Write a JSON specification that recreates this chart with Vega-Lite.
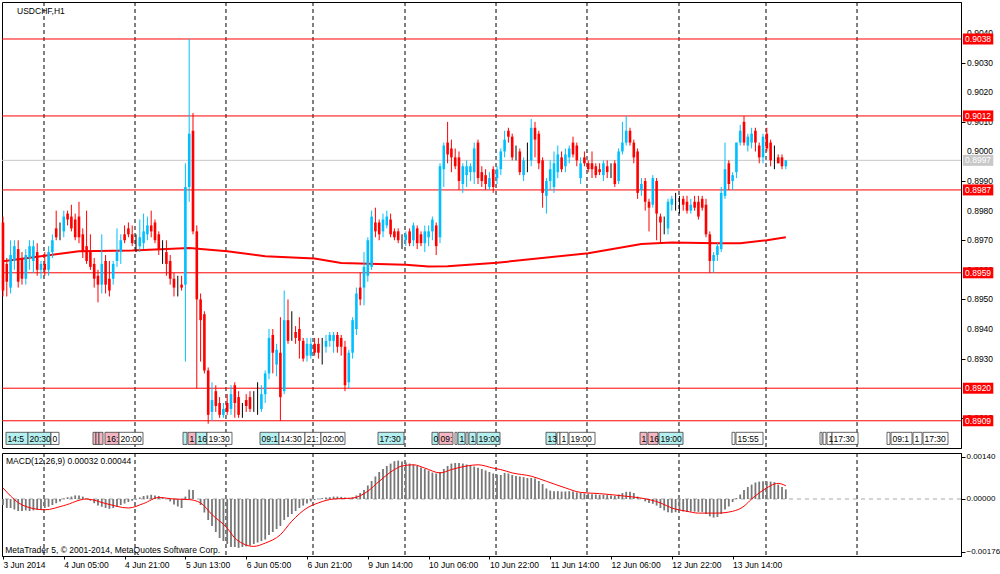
{
  "$schema": "https://vega.github.io/schema/vega-lite/v6.json",
  "padding": {"left": -2, "top": 1, "right": 0, "bottom": 0},
  "background": "#ffffff",
  "spacing": 3,
  "config": {
    "view": {"stroke": "#000000", "strokeWidth": 1},
    "font": "Liberation Sans",
    "axis": {"labelFont": "Liberation Sans", "labelFontSize": 8.5, "labelColor": "#000000", "domainColor": "#000000", "tickColor": "#000000", "grid": false, "labelOverlap": false}
  },
  "datasets": {
    "grid": [{"i": 10.79}, {"i": 34.74}, {"i": 58.68}, {"i": 81.58}, {"i": 105.79}, {"i": 129.74}, {"i": 153.68}, {"i": 177.89}, {"i": 200.79}, {"i": 224.74}],
    "pticks": [{"p": 0.891}, {"p": 0.892}, {"p": 0.893}, {"p": 0.894}, {"p": 0.895}, {"p": 0.896}, {"p": 0.897}, {"p": 0.898}, {"p": 0.899}, {"p": 0.9}, {"p": 0.901}, {"p": 0.902}, {"p": 0.903}, {"p": 0.904}],
    "levels": [
      {"p": 0.9038, "k": "lvl"}, {"p": 0.9012, "k": "lvl"}, {"p": 0.8997, "k": "bid"}, {"p": 0.8987, "k": "lvl"},
      {"p": 0.8959, "k": "lvl"}, {"p": 0.892, "k": "lvl"}, {"p": 0.8909, "k": "lvl"}
    ],
    "ma": [
      {"i": 0, "p": 0.89629}, {"i": 10, "p": 0.89646}, {"i": 20, "p": 0.89663}, {"i": 34, "p": 0.89665}, {"i": 49, "p": 0.89674},
      {"i": 59, "p": 0.89663}, {"i": 69, "p": 0.89646}, {"i": 82, "p": 0.89638}, {"i": 89, "p": 0.89623}, {"i": 106, "p": 0.89617},
      {"i": 112, "p": 0.89611}, {"i": 117, "p": 0.89612}, {"i": 130, "p": 0.89624}, {"i": 154, "p": 0.89656}, {"i": 168, "p": 0.89687},
      {"i": 176, "p": 0.89692}, {"i": 188, "p": 0.8969}, {"i": 194, "p": 0.8969}, {"i": 201, "p": 0.897}, {"i": 206, "p": 0.8971}
    ],
    "events": [
      {"s": 0.79, "e": 6.58, "t": "14:5", "k": "c"}, {"s": 6.58, "e": 12.63, "t": "20:30", "k": "c"}, {"s": 12.63, "e": 14.74, "t": "0", "k": "w"},
      {"s": 23.68, "e": 24.47, "t": "", "k": "p"}, {"s": 24.47, "e": 25.26, "t": "", "k": "p"}, {"s": 25.26, "e": 26.32, "t": "", "k": "p"},
      {"s": 26.84, "e": 30.53, "t": "16:", "k": "p"}, {"s": 30.53, "e": 36.84, "t": "20:00", "k": "w"},
      {"s": 47.37, "e": 48.42, "t": "", "k": "c"}, {"s": 48.68, "e": 50.79, "t": "1", "k": "p"}, {"s": 50.79, "e": 53.68, "t": "16", "k": "c"},
      {"s": 53.68, "e": 60.26, "t": "19:30", "k": "w"}, {"s": 67.63, "e": 72.63, "t": "09:1", "k": "c"}, {"s": 72.63, "e": 79.47, "t": "14:30", "k": "w"},
      {"s": 79.47, "e": 83.68, "t": "21:", "k": "w"}, {"s": 83.68, "e": 90, "t": "02:00", "k": "w"}, {"s": 98.68, "e": 105.53, "t": "17:30", "k": "c"},
      {"s": 112.89, "e": 114.47, "t": "0", "k": "c"}, {"s": 114.74, "e": 118.42, "t": "09:", "k": "p"}, {"s": 118.95, "e": 119.47, "t": "", "k": "w"},
      {"s": 119.74, "e": 121.58, "t": "1", "k": "c"}, {"s": 121.84, "e": 122.37, "t": "", "k": "w"}, {"s": 122.63, "e": 124.47, "t": "1", "k": "c"},
      {"s": 124.74, "e": 130.79, "t": "19:00", "k": "c"}, {"s": 142.89, "e": 145.53, "t": "13", "k": "c"}, {"s": 145.79, "e": 146.58, "t": "", "k": "w"},
      {"s": 146.58, "e": 148.68, "t": "1", "k": "w"}, {"s": 148.95, "e": 155.79, "t": "19:00", "k": "w"}, {"s": 167.63, "e": 169.47, "t": "1", "k": "p"},
      {"s": 169.74, "e": 172.37, "t": "16", "k": "p"}, {"s": 172.63, "e": 178.95, "t": "19:00", "k": "c"}, {"s": 191.84, "e": 192.63, "t": "", "k": "w"},
      {"s": 192.89, "e": 200, "t": "15:55", "k": "w"}, {"s": 215, "e": 215.53, "t": "", "k": "w"}, {"s": 215.79, "e": 216.58, "t": "", "k": "w"},
      {"s": 216.84, "e": 218.16, "t": "1", "k": "w"}, {"s": 218.16, "e": 225, "t": "17:30", "k": "w"}, {"s": 232.63, "e": 233.42, "t": "", "k": "w"},
      {"s": 233.68, "e": 239.21, "t": "09:1", "k": "w"}, {"s": 239.47, "e": 241.84, "t": "1", "k": "w"}, {"s": 242.11, "e": 248.68, "t": "17:30", "k": "w"}
    ],
    "bars": [
      {"i":0,"o":0.8976,"h":0.8978,"l":0.8951,"c":0.8953},{"i":1,"o":0.8962,"h":0.8964,"l":0.8951,"c":0.8956},{"i":2,"o":0.8954,"h":0.897,"l":0.8952,"c":0.8965},
      {"i":3,"o":0.8963,"h":0.897,"l":0.896,"c":0.8968},{"i":4,"o":0.8967,"h":0.897,"l":0.8954,"c":0.8956},{"i":5,"o":0.8964,"h":0.8966,"l":0.8955,"c":0.8957},
      {"i":6,"o":0.8957,"h":0.8967,"l":0.8955,"c":0.8965},{"i":7,"o":0.8964,"h":0.897,"l":0.896,"c":0.8968},{"i":8,"o":0.8963,"h":0.897,"l":0.8959,"c":0.8968},
      {"i":9,"o":0.8966,"h":0.8969,"l":0.8958,"c":0.896},{"i":10,"o":0.896,"h":0.8963,"l":0.8957,"c":0.8962},{"i":11,"o":0.8962,"h":0.8966,"l":0.8958,"c":0.896},
      {"i":12,"o":0.896,"h":0.8968,"l":0.8958,"c":0.8966},{"i":13,"o":0.8966,"h":0.8972,"l":0.8964,"c":0.897},{"i":14,"o":0.8974,"h":0.898,"l":0.897,"c":0.8971},
      {"i":15,"o":0.8973,"h":0.8976,"l":0.897,"c":0.8973},{"i":16,"o":0.8973,"h":0.898,"l":0.8971,"c":0.8978},{"i":17,"o":0.8979,"h":0.898,"l":0.8975,"c":0.8977},
      {"i":18,"o":0.8978,"h":0.8982,"l":0.8973,"c":0.8974},{"i":19,"o":0.8977,"h":0.8979,"l":0.897,"c":0.8971},{"i":20,"o":0.8978,"h":0.8983,"l":0.8969,"c":0.8971},
      {"i":21,"o":0.8972,"h":0.8974,"l":0.8964,"c":0.8966},{"i":22,"o":0.8968,"h":0.898,"l":0.8962,"c":0.8963},{"i":23,"o":0.8966,"h":0.8972,"l":0.896,"c":0.8961},
      {"i":24,"o":0.8962,"h":0.8964,"l":0.8954,"c":0.8957},{"i":25,"o":0.8958,"h":0.896,"l":0.8949,"c":0.8955},{"i":26,"o":0.8955,"h":0.8972,"l":0.8952,"c":0.8962},
      {"i":27,"o":0.8963,"h":0.8965,"l":0.8952,"c":0.8955},{"i":28,"o":0.8957,"h":0.8963,"l":0.8951,"c":0.8953},{"i":29,"o":0.8957,"h":0.8963,"l":0.8955,"c":0.8962},
      {"i":30,"o":0.8963,"h":0.8974,"l":0.8961,"c":0.8966},{"i":31,"o":0.8966,"h":0.8972,"l":0.8962,"c":0.897},{"i":32,"o":0.8972,"h":0.8975,"l":0.8969,"c":0.897},
      {"i":33,"o":0.8974,"h":0.8976,"l":0.8971,"c":0.8972},{"i":34,"o":0.8972,"h":0.8975,"l":0.8968,"c":0.8969},{"i":35,"o":0.897,"h":0.8972,"l":0.8966,"c":0.897},
      {"i":36,"o":0.8968,"h":0.8977,"l":0.8966,"c":0.8971},{"i":37,"o":0.8969,"h":0.8979,"l":0.8967,"c":0.8973},{"i":38,"o":0.8972,"h":0.8978,"l":0.897,"c":0.8975},
      {"i":39,"o":0.8975,"h":0.898,"l":0.8971,"c":0.8973},{"i":40,"o":0.8976,"h":0.8977,"l":0.8969,"c":0.897},{"i":41,"o":0.8972,"h":0.8973,"l":0.8965,"c":0.8967},
      {"i":42,"o":0.8968,"h":0.897,"l":0.8962,"c":0.8968},{"i":43,"o":0.8966,"h":0.897,"l":0.8958,"c":0.8962},{"i":44,"o":0.8963,"h":0.8965,"l":0.8955,"c":0.8957},
      {"i":45,"o":0.8957,"h":0.8959,"l":0.8951,"c":0.8954},{"i":46,"o":0.8954,"h":0.8958,"l":0.8951,"c":0.8954},{"i":47,"o":0.8955,"h":0.8958,"l":0.8953,"c":0.8954},
      {"i":48,"o":0.8955,"h":0.8996,"l":0.8929,"c":0.8988},{"i":49,"o":0.8988,"h":0.9038,"l":0.8983,"c":0.9006},{"i":50,"o":0.9007,"h":0.9013,"l":0.8972,"c":0.8973},
      {"i":51,"o":0.8973,"h":0.8975,"l":0.892,"c":0.895},{"i":52,"o":0.895,"h":0.8952,"l":0.8929,"c":0.8943},{"i":53,"o":0.8945,"h":0.8946,"l":0.8925,"c":0.8926},
      {"i":54,"o":0.8926,"h":0.8927,"l":0.8908,"c":0.8911},{"i":55,"o":0.8912,"h":0.8922,"l":0.8909,"c":0.8916},{"i":56,"o":0.8919,"h":0.8921,"l":0.8912,"c":0.8914},
      {"i":57,"o":0.8915,"h":0.8917,"l":0.891,"c":0.8911},{"i":58,"o":0.8911,"h":0.8915,"l":0.891,"c":0.8913},{"i":59,"o":0.8915,"h":0.8918,"l":0.8911,"c":0.8912},
      {"i":60,"o":0.8913,"h":0.8921,"l":0.8911,"c":0.8918},{"i":61,"o":0.8921,"h":0.8922,"l":0.891,"c":0.8915},{"i":62,"o":0.8917,"h":0.8919,"l":0.891,"c":0.8911},
      {"i":63,"o":0.8912,"h":0.8915,"l":0.891,"c":0.8912},{"i":64,"o":0.8916,"h":0.8918,"l":0.8912,"c":0.8914},{"i":65,"o":0.8917,"h":0.8919,"l":0.8912,"c":0.8913},
      {"i":66,"o":0.8915,"h":0.8919,"l":0.8912,"c":0.8915},{"i":67,"o":0.8914,"h":0.8922,"l":0.8911,"c":0.8914},{"i":68,"o":0.8913,"h":0.8921,"l":0.8912,"c":0.8918},
      {"i":69,"o":0.8918,"h":0.8926,"l":0.8915,"c":0.8925},{"i":70,"o":0.8925,"h":0.894,"l":0.8923,"c":0.8937},{"i":71,"o":0.8938,"h":0.894,"l":0.8925,"c":0.8932},
      {"i":72,"o":0.8928,"h":0.8935,"l":0.8924,"c":0.8933},{"i":73,"o":0.8932,"h":0.8944,"l":0.8909,"c":0.8917},{"i":74,"o":0.8919,"h":0.8953,"l":0.8918,"c":0.8943},
      {"i":75,"o":0.8943,"h":0.895,"l":0.8935,"c":0.8936},{"i":76,"o":0.8938,"h":0.8946,"l":0.8936,"c":0.8938},{"i":77,"o":0.8939,"h":0.8941,"l":0.8935,"c":0.8937},
      {"i":78,"o":0.894,"h":0.8944,"l":0.893,"c":0.8936},{"i":79,"o":0.8936,"h":0.8937,"l":0.8929,"c":0.893},{"i":80,"o":0.8931,"h":0.8937,"l":0.8929,"c":0.8935},
      {"i":81,"o":0.8931,"h":0.8937,"l":0.893,"c":0.8935},{"i":82,"o":0.8935,"h":0.8937,"l":0.8931,"c":0.8932},{"i":83,"o":0.8935,"h":0.8937,"l":0.893,"c":0.8932},
      {"i":84,"o":0.8934,"h":0.8937,"l":0.8928,"c":0.8934},{"i":85,"o":0.8934,"h":0.8938,"l":0.8932,"c":0.8936},{"i":86,"o":0.8936,"h":0.8939,"l":0.8934,"c":0.8938},
      {"i":87,"o":0.8936,"h":0.8939,"l":0.8932,"c":0.8938},{"i":88,"o":0.8938,"h":0.8939,"l":0.8932,"c":0.8934},{"i":89,"o":0.8937,"h":0.8938,"l":0.8931,"c":0.8934},
      {"i":90,"o":0.8934,"h":0.8936,"l":0.8919,"c":0.8921},{"i":91,"o":0.8922,"h":0.8933,"l":0.892,"c":0.8932},{"i":92,"o":0.8932,"h":0.8944,"l":0.893,"c":0.8943},
      {"i":93,"o":0.894,"h":0.8954,"l":0.8938,"c":0.8952},{"i":94,"o":0.8954,"h":0.8959,"l":0.8948,"c":0.895},{"i":95,"o":0.8954,"h":0.8966,"l":0.8948,"c":0.8961},
      {"i":96,"o":0.8958,"h":0.8971,"l":0.8956,"c":0.897},{"i":97,"o":0.8961,"h":0.898,"l":0.896,"c":0.8978},{"i":98,"o":0.8976,"h":0.8981,"l":0.8971,"c":0.8973},
      {"i":99,"o":0.8976,"h":0.8977,"l":0.897,"c":0.8972},{"i":100,"o":0.8973,"h":0.8979,"l":0.8971,"c":0.8977},{"i":101,"o":0.8975,"h":0.898,"l":0.8974,"c":0.8978},
      {"i":102,"o":0.8977,"h":0.8979,"l":0.8971,"c":0.8972},{"i":103,"o":0.8973,"h":0.8974,"l":0.897,"c":0.8971},{"i":104,"o":0.8973,"h":0.8974,"l":0.8969,"c":0.897},
      {"i":105,"o":0.8971,"h":0.8972,"l":0.8967,"c":0.8971},{"i":106,"o":0.897,"h":0.8973,"l":0.8968,"c":0.8972},{"i":107,"o":0.8973,"h":0.8974,"l":0.8968,"c":0.8969},
      {"i":108,"o":0.897,"h":0.8976,"l":0.8968,"c":0.8975},{"i":109,"o":0.8974,"h":0.8975,"l":0.8967,"c":0.8969},{"i":110,"o":0.8972,"h":0.8973,"l":0.8968,"c":0.8969},
      {"i":111,"o":0.8969,"h":0.8975,"l":0.8966,"c":0.8973},{"i":112,"o":0.8971,"h":0.8975,"l":0.8968,"c":0.8973},{"i":113,"o":0.8973,"h":0.8978,"l":0.897,"c":0.8977},
      {"i":114,"o":0.8975,"h":0.8976,"l":0.8965,"c":0.8968},{"i":115,"o":0.8971,"h":0.8996,"l":0.8969,"c":0.8995},{"i":116,"o":0.8994,"h":0.9003,"l":0.8988,"c":0.9002},
      {"i":117,"o":0.9003,"h":0.901,"l":0.8996,"c":0.8999},{"i":118,"o":0.9001,"h":0.9004,"l":0.8993,"c":0.8998},{"i":119,"o":0.8998,"h":0.9001,"l":0.8994,"c":0.8995},
      {"i":120,"o":0.8998,"h":0.9,"l":0.8987,"c":0.899},{"i":121,"o":0.8989,"h":0.8996,"l":0.8986,"c":0.8995},{"i":122,"o":0.8992,"h":0.8997,"l":0.8988,"c":0.8995},
      {"i":123,"o":0.8993,"h":0.8996,"l":0.899,"c":0.8995},{"i":124,"o":0.8993,"h":0.9003,"l":0.8989,"c":0.9001},{"i":125,"o":0.9003,"h":0.9004,"l":0.8989,"c":0.8991},
      {"i":126,"o":0.8993,"h":0.8995,"l":0.8988,"c":0.899},{"i":127,"o":0.8992,"h":0.8994,"l":0.8987,"c":0.8989},{"i":128,"o":0.8988,"h":0.8993,"l":0.8987,"c":0.8991},
      {"i":129,"o":0.8994,"h":0.8995,"l":0.8986,"c":0.8988},{"i":130,"o":0.8991,"h":0.8995,"l":0.8989,"c":0.8994},{"i":131,"o":0.8994,"h":0.9001,"l":0.8992,"c":0.9},
      {"i":132,"o":0.9,"h":0.9007,"l":0.8998,"c":0.9004},{"i":133,"o":0.9007,"h":0.9008,"l":0.9003,"c":0.9005},{"i":134,"o":0.9005,"h":0.9006,"l":0.8997,"c":0.8998},
      {"i":135,"o":0.9,"h":0.9002,"l":0.8997,"c":0.9},{"i":136,"o":0.9,"h":0.9001,"l":0.8992,"c":0.8993},{"i":137,"o":0.8992,"h":0.8998,"l":0.899,"c":0.8997},
      {"i":138,"o":0.8998,"h":0.9003,"l":0.8993,"c":0.8998},{"i":139,"o":0.8997,"h":0.9011,"l":0.8995,"c":0.9008},{"i":140,"o":0.9008,"h":0.901,"l":0.8998,"c":0.9004},
      {"i":141,"o":0.9006,"h":0.9007,"l":0.8994,"c":0.8996},{"i":142,"o":0.8997,"h":0.8998,"l":0.8981,"c":0.8986},{"i":143,"o":0.8985,"h":0.8991,"l":0.8979,"c":0.899},
      {"i":144,"o":0.899,"h":0.8997,"l":0.8987,"c":0.8994},{"i":145,"o":0.8988,"h":0.9,"l":0.8986,"c":0.8996},{"i":146,"o":0.8993,"h":0.9002,"l":0.8991,"c":0.8999},
      {"i":147,"o":0.8998,"h":0.9,"l":0.8993,"c":0.8994},{"i":148,"o":0.8995,"h":0.9001,"l":0.8993,"c":0.8999},{"i":149,"o":0.8998,"h":0.9002,"l":0.8996,"c":0.9001},
      {"i":150,"o":0.9003,"h":0.9005,"l":0.8998,"c":0.8999},{"i":151,"o":0.9002,"h":0.9003,"l":0.8995,"c":0.8997},{"i":152,"o":0.8991,"h":0.8998,"l":0.8989,"c":0.8996},
      {"i":153,"o":0.8998,"h":0.9,"l":0.8995,"c":0.8996},{"i":154,"o":0.8996,"h":0.8997,"l":0.8993,"c":0.8994},{"i":155,"o":0.8996,"h":0.9,"l":0.8991,"c":0.8994},
      {"i":156,"o":0.8995,"h":0.8996,"l":0.8991,"c":0.8992},{"i":157,"o":0.8994,"h":0.8996,"l":0.8992,"c":0.8993},{"i":158,"o":0.8992,"h":0.8997,"l":0.899,"c":0.8996},
      {"i":159,"o":0.8995,"h":0.8997,"l":0.8991,"c":0.8993},{"i":160,"o":0.8994,"h":0.8996,"l":0.8991,"c":0.8994},{"i":161,"o":0.8996,"h":0.8997,"l":0.8988,"c":0.8989},
      {"i":162,"o":0.899,"h":0.9001,"l":0.8989,"c":0.9},{"i":163,"o":0.9,"h":0.901,"l":0.8999,"c":0.9003},{"i":164,"o":0.9003,"h":0.9012,"l":0.9002,"c":0.9007},
      {"i":165,"o":0.9007,"h":0.9008,"l":0.9002,"c":0.9003},{"i":166,"o":0.9003,"h":0.9004,"l":0.8996,"c":0.8998},{"i":167,"o":0.9,"h":0.9001,"l":0.8984,"c":0.8986},
      {"i":168,"o":0.8987,"h":0.8991,"l":0.8985,"c":0.8989},{"i":169,"o":0.899,"h":0.8991,"l":0.898,"c":0.8983},{"i":170,"o":0.8983,"h":0.8984,"l":0.8973,"c":0.8981},
      {"i":171,"o":0.8982,"h":0.8992,"l":0.8981,"c":0.8991},{"i":172,"o":0.899,"h":0.8991,"l":0.897,"c":0.8979},{"i":173,"o":0.8978,"h":0.8979,"l":0.8969,"c":0.8976},
      {"i":174,"o":0.8977,"h":0.8978,"l":0.8972,"c":0.8977},{"i":175,"o":0.8974,"h":0.8984,"l":0.8972,"c":0.8983},{"i":176,"o":0.8982,"h":0.8985,"l":0.898,"c":0.8984},
      {"i":177,"o":0.8983,"h":0.8986,"l":0.898,"c":0.8983},{"i":178,"o":0.8983,"h":0.8985,"l":0.8979,"c":0.8983},{"i":179,"o":0.8984,"h":0.8985,"l":0.898,"c":0.8982},
      {"i":180,"o":0.8983,"h":0.8985,"l":0.8979,"c":0.898},{"i":181,"o":0.898,"h":0.8984,"l":0.8979,"c":0.8982},{"i":182,"o":0.8983,"h":0.8985,"l":0.898,"c":0.8981},
      {"i":183,"o":0.8983,"h":0.8985,"l":0.8977,"c":0.8978},{"i":184,"o":0.8984,"h":0.8985,"l":0.898,"c":0.8981},{"i":185,"o":0.8982,"h":0.8984,"l":0.8971,"c":0.8972},
      {"i":186,"o":0.8972,"h":0.8973,"l":0.8959,"c":0.8963},{"i":187,"o":0.8963,"h":0.8966,"l":0.8959,"c":0.8965},{"i":188,"o":0.8965,"h":0.8969,"l":0.8963,"c":0.8968},
      {"i":189,"o":0.8967,"h":0.8988,"l":0.8966,"c":0.8986},{"i":190,"o":0.8985,"h":0.9003,"l":0.8984,"c":0.8994},{"i":191,"o":0.8996,"h":0.8997,"l":0.8987,"c":0.8989},
      {"i":192,"o":0.899,"h":0.8993,"l":0.8987,"c":0.8992},{"i":193,"o":0.8993,"h":0.9003,"l":0.8991,"c":0.9003},{"i":194,"o":0.9003,"h":0.9009,"l":0.9002,"c":0.9007},
      {"i":195,"o":0.901,"h":0.9012,"l":0.9002,"c":0.9003},{"i":196,"o":0.9002,"h":0.9006,"l":0.9,"c":0.9005},{"i":197,"o":0.9003,"h":0.9008,"l":0.9001,"c":0.9006},
      {"i":198,"o":0.9007,"h":0.9008,"l":0.9,"c":0.9003},{"i":199,"o":0.9002,"h":0.9003,"l":0.8996,"c":0.8998},{"i":200,"o":0.8998,"h":0.9006,"l":0.8996,"c":0.9005},
      {"i":201,"o":0.9006,"h":0.9008,"l":0.9,"c":0.9001},{"i":202,"o":0.9003,"h":0.9004,"l":0.8995,"c":0.8997},{"i":203,"o":0.8998,"h":0.9002,"l":0.8994,"c":0.8998},
      {"i":204,"o":0.8998,"h":0.8999,"l":0.8996,"c":0.8996},{"i":205,"o":0.8998,"h":0.8999,"l":0.8994,"c":0.8995},{"i":206,"o":0.8995,"h":0.8997,"l":0.8994,"c":0.8997}
    ],
    "macd": [
      {"i":0,"v":-0.0002},{"i":1,"v":-0.0003},{"i":2,"v":-0.0003},{"i":3,"v":-0.00035},{"i":4,"v":-0.0004},{"i":5,"v":-0.0004},{"i":6,"v":-0.00038},{"i":7,"v":-0.0004},
      {"i":8,"v":-0.00038},{"i":9,"v":-0.00036},{"i":10,"v":-0.00035},{"i":11,"v":-0.0003},{"i":12,"v":-0.00026},{"i":13,"v":-0.0002},{"i":14,"v":-0.00014},{"i":15,"v":-0.00008},
      {"i":16,"v":0.00002},{"i":17,"v":0.00006},{"i":18,"v":0.00008},{"i":19,"v":0.00012},{"i":20,"v":0.00012},{"i":21,"v":0.00008},{"i":22,"v":0.00002},{"i":23,"v":-0.00006},
      {"i":24,"v":-0.00014},{"i":25,"v":-0.00022},{"i":26,"v":-0.00026},{"i":27,"v":-0.0003},{"i":28,"v":-0.00033},{"i":29,"v":-0.0003},{"i":30,"v":-0.00025},{"i":31,"v":-0.0002},
      {"i":32,"v":-0.00015},{"i":33,"v":-0.0001},{"i":34,"v":-0.00006},{"i":35,"v":-0.00002},{"i":36,"v":0.00005},{"i":37,"v":0.0001},{"i":38,"v":0.00012},{"i":39,"v":0.00014},
      {"i":40,"v":0.00012},{"i":41,"v":0.0001},{"i":42,"v":0.00006},{"i":43,"v":0.0},{"i":44,"v":-0.00008},{"i":45,"v":-0.00018},{"i":46,"v":-0.00025},{"i":47,"v":-0.0003},
      {"i":48,"v":0.00008},{"i":49,"v":0.00031},{"i":50,"v":0.0003},{"i":51,"v":0.0},{"i":52,"v":-0.0002},{"i":53,"v":-0.00045},{"i":54,"v":-0.0007},{"i":55,"v":-0.0009},
      {"i":56,"v":-0.0011},{"i":57,"v":-0.0013},{"i":58,"v":-0.0014},{"i":59,"v":-0.0015},{"i":60,"v":-0.0016},{"i":61,"v":-0.0016},{"i":62,"v":-0.00163},{"i":63,"v":-0.0016},
      {"i":64,"v":-0.00158},{"i":65,"v":-0.00155},{"i":66,"v":-0.0015},{"i":67,"v":-0.00145},{"i":68,"v":-0.0014},{"i":69,"v":-0.00135},{"i":70,"v":-0.0012},{"i":71,"v":-0.0011},
      {"i":72,"v":-0.001},{"i":73,"v":-0.0009},{"i":74,"v":-0.0007},{"i":75,"v":-0.0006},{"i":76,"v":-0.0005},{"i":77,"v":-0.0004},{"i":78,"v":-0.0003},{"i":79,"v":-0.00022},
      {"i":80,"v":-0.00015},{"i":81,"v":-0.00008},{"i":82,"v":-0.00004},{"i":83,"v":0.0},{"i":84,"v":0.00003},{"i":85,"v":0.00005},{"i":86,"v":0.00006},{"i":87,"v":0.00008},
      {"i":88,"v":0.00008},{"i":89,"v":0.00007},{"i":90,"v":0.00005},{"i":91,"v":0.00003},{"i":92,"v":0.00006},{"i":93,"v":0.00012},{"i":94,"v":0.0002},{"i":95,"v":0.0003},
      {"i":96,"v":0.00045},{"i":97,"v":0.0006},{"i":98,"v":0.00075},{"i":99,"v":0.0009},{"i":100,"v":0.001},{"i":101,"v":0.0011},{"i":102,"v":0.00118},{"i":103,"v":0.00126},
      {"i":104,"v":0.00128},{"i":105,"v":0.00125},{"i":106,"v":0.00122},{"i":107,"v":0.00118},{"i":108,"v":0.00115},{"i":109,"v":0.0011},{"i":110,"v":0.00105},{"i":111,"v":0.001},
      {"i":112,"v":0.00095},{"i":113,"v":0.00088},{"i":114,"v":0.00085},{"i":115,"v":0.0009},{"i":116,"v":0.001},{"i":117,"v":0.0011},{"i":118,"v":0.00118},{"i":119,"v":0.0012},
      {"i":120,"v":0.0012},{"i":121,"v":0.00118},{"i":122,"v":0.00115},{"i":123,"v":0.00112},{"i":124,"v":0.00108},{"i":125,"v":0.00104},{"i":126,"v":0.001},{"i":127,"v":0.00095},
      {"i":128,"v":0.0009},{"i":129,"v":0.00085},{"i":130,"v":0.00082},{"i":131,"v":0.0008},{"i":132,"v":0.00087},{"i":133,"v":0.00085},{"i":134,"v":0.0008},{"i":135,"v":0.00077},
      {"i":136,"v":0.00075},{"i":137,"v":0.00073},{"i":138,"v":0.0007},{"i":139,"v":0.0007},{"i":140,"v":0.00068},{"i":141,"v":0.0006},{"i":142,"v":0.0005},{"i":143,"v":0.00035},
      {"i":144,"v":0.00028},{"i":145,"v":0.00026},{"i":146,"v":0.00026},{"i":147,"v":0.00025},{"i":148,"v":0.00025},{"i":149,"v":0.00026},{"i":150,"v":0.00025},{"i":151,"v":0.00022},
      {"i":152,"v":0.0002},{"i":153,"v":0.00019},{"i":154,"v":0.00018},{"i":155,"v":0.00016},{"i":156,"v":0.00015},{"i":157,"v":0.00014},{"i":158,"v":0.00014},{"i":159,"v":0.00013},
      {"i":160,"v":0.00012},{"i":161,"v":0.0001},{"i":162,"v":0.00015},{"i":163,"v":0.0002},{"i":164,"v":0.00024},{"i":165,"v":0.00024},{"i":166,"v":0.0002},{"i":167,"v":0.00008},
      {"i":168,"v":0.00002},{"i":169,"v":-0.00008},{"i":170,"v":-0.00013},{"i":171,"v":-0.00016},{"i":172,"v":-0.00022},{"i":173,"v":-0.0003},{"i":174,"v":-0.00038},{"i":175,"v":-0.00044},
      {"i":176,"v":-0.00046},{"i":177,"v":-0.00044},{"i":178,"v":-0.0004},{"i":179,"v":-0.00042},{"i":180,"v":-0.00043},{"i":181,"v":-0.00042},{"i":182,"v":-0.00042},{"i":183,"v":-0.00043},
      {"i":184,"v":-0.00043},{"i":185,"v":-0.0005},{"i":186,"v":-0.00058},{"i":187,"v":-0.00062},{"i":188,"v":-0.0006},{"i":189,"v":-0.0005},{"i":190,"v":-0.00035},{"i":191,"v":-0.00025},
      {"i":192,"v":-0.0001},{"i":193,"v":0.00003},{"i":194,"v":0.00015},{"i":195,"v":0.0003},{"i":196,"v":0.0004},{"i":197,"v":0.00048},{"i":198,"v":0.00055},{"i":199,"v":0.00058},
      {"i":200,"v":0.00059},{"i":201,"v":0.00059},{"i":202,"v":0.00058},{"i":203,"v":0.00056},{"i":204,"v":0.00048},{"i":205,"v":0.0004},{"i":206,"v":0.00032}
    ],
    "signal": [
      {"i":0,"s":0.00037},{"i":4,"s":-0.00012},{"i":8,"s":-0.00032},{"i":11,"s":-0.00036},{"i":16,"s":-0.00022},{"i":22,"s":0.0},{"i":27,"s":-0.00015},
      {"i":33,"s":-0.0003},{"i":37,"s":-0.00015},{"i":41,"s":0.00005},{"i":45,"s":0.0},{"i":49,"s":-0.00002},{"i":52,"s":-0.00013},{"i":55,"s":-0.00052},
      {"i":59,"s":-0.00097},{"i":61,"s":-0.0013},{"i":63,"s":-0.00148},{"i":66,"s":-0.00158},{"i":69,"s":-0.00147},{"i":73,"s":-0.00119},{"i":76,"s":-0.00074},
      {"i":80,"s":-0.0003},{"i":83,"s":-0.00013},{"i":87,"s":0.0},{"i":92,"s":0.00003},{"i":96,"s":0.00026},{"i":99,"s":0.00059},{"i":103,"s":0.00098},
      {"i":105,"s":0.0011},{"i":108,"s":0.00114},{"i":111,"s":0.00103},{"i":115,"s":0.00087},{"i":118,"s":0.00098},{"i":122,"s":0.0011},{"i":125,"s":0.00114},
      {"i":129,"s":0.00103},{"i":131,"s":0.00098},{"i":134,"s":0.00087},{"i":139,"s":0.00076},{"i":143,"s":0.00059},{"i":148,"s":0.00037},{"i":152,"s":0.00022},
      {"i":157,"s":0.00018},{"i":164,"s":0.00009},{"i":168,"s":0.00003},{"i":173,"s":-0.00013},{"i":176,"s":-0.0003},{"i":180,"s":-0.00041},{"i":183,"s":-0.00047},
      {"i":188,"s":-0.00047},{"i":192,"s":-0.00041},{"i":195,"s":-0.00024},{"i":197,"s":0.0},{"i":201,"s":0.00037},{"i":203,"s":0.0005},{"i":204,"s":0.00052},{"i":206,"s":0.00044}
    ]
  },
  "vconcat": [
    {
      "width": 959,
      "height": 446,
      "layer": [
        {
          "data": {"name": "grid"},
          "mark": {"type": "rule", "strokeDash": [4, 3], "color": "#000000", "strokeWidth": 1},
          "encoding": {"x": {"field": "i", "type": "quantitative", "scale": {"domain": [-0.26, 252.1], "nice": false, "zero": false, "padding": 0}, "axis": null}}
        },
        {
          "data": {"name": "pticks"},
          "mark": {"type": "text", "align": "left", "baseline": "middle", "fontSize": 8.5, "color": "#000000"},
          "encoding": {
            "x": {"datum": 253.7, "axis": null},
            "y": {"field": "p", "type": "quantitative", "scale": {"domain": [0.88998, 0.90505], "nice": false, "zero": false, "padding": 0},
              "axis": {"orient": "right", "values": [0.891, 0.892, 0.893, 0.894, 0.895, 0.896, 0.897, 0.898, 0.899, 0.9, 0.901, 0.902, 0.903, 0.904], "labels": false, "tickSize": 4, "title": null}},
            "text": {"field": "p", "type": "quantitative", "format": ".4f"}
          }
        },
        {
          "data": {"name": "levels"},
          "mark": {"type": "rule", "strokeWidth": 1},
          "encoding": {
            "y": {"field": "p", "type": "quantitative"},
            "color": {"condition": {"test": "datum.k == 'bid'", "value": "#C8C8C8"}, "value": "#FF0000"},
            "strokeWidth": {"condition": {"test": "datum.k == 'bid'", "value": 2}, "value": 1}
          }
        },
        {
          "data": {"name": "ma"},
          "mark": {"type": "line", "color": "#FF0000", "strokeWidth": 2},
          "encoding": {
            "x": {"field": "i", "type": "quantitative", "axis": null},
            "y": {"field": "p", "type": "quantitative"}
          }
        },
        {
          "data": {"name": "bars"},
          "mark": {"type": "rule", "strokeWidth": 1},
          "encoding": {
            "x": {"field": "i", "type": "quantitative", "axis": null},
            "y": {"field": "l", "type": "quantitative"},
            "y2": {"field": "h"},
            "color": {"condition": [{"test": "datum.c > datum.o", "value": "#00BFFF"}, {"test": "datum.c < datum.o", "value": "#FF0000"}], "value": "#000000"}
          }
        },
        {
          "data": {"name": "bars"},
          "mark": {"type": "bar", "width": 2.6},
          "encoding": {
            "x": {"field": "i", "type": "quantitative", "axis": null},
            "y": {"field": "o", "type": "quantitative"},
            "y2": {"field": "c"},
            "color": {"condition": [{"test": "datum.c > datum.o", "value": "#00BFFF"}, {"test": "datum.c < datum.o", "value": "#FF0000"}], "value": "#000000"}
          }
        },
        {
          "data": {"name": "events"},
          "mark": {"type": "rect", "stroke": "#404040", "strokeWidth": 0.8},
          "encoding": {
            "x": {"field": "s", "type": "quantitative", "axis": null},
            "x2": {"field": "e"},
            "y": {"datum": 0.89051},
            "y2": {"datum": 0.8901},
            "fill": {"field": "k", "type": "nominal", "scale": {"domain": ["c", "p", "w"], "range": ["#B4F0F0", "#F4B6C2", "#FFFFFF"]}, "legend": null}
          }
        },
        {
          "data": {"name": "events"},
          "mark": {"type": "text", "align": "left", "baseline": "middle", "dx": 1.5, "fontSize": 8.5, "color": "#000000"},
          "encoding": {
            "x": {"field": "s", "type": "quantitative", "axis": null},
            "y": {"datum": 0.8903},
            "text": {"field": "t"}
          }
        },
        {
          "data": {"name": "levels"},
          "mark": {"type": "rule", "strokeWidth": 11, "strokeCap": "butt"},
          "encoding": {
            "x": {"datum": 252.6, "axis": null},
            "x2": {"datum": 260.6},
            "y": {"field": "p", "type": "quantitative"},
            "color": {"condition": {"test": "datum.k == 'bid'", "value": "#C8C8C8"}, "value": "#FF0000"}
          }
        },
        {
          "data": {"name": "levels"},
          "mark": {"type": "text", "align": "center", "baseline": "middle", "fontSize": 8.5, "color": "#FFFFFF"},
          "encoding": {
            "x": {"datum": 256.6, "axis": null},
            "y": {"field": "p", "type": "quantitative"},
            "text": {"field": "p", "type": "quantitative", "format": ".4f"}
          }
        },
        {
          "data": {"values": [{"t": "USDCHF,H1"}]},
          "mark": {"type": "text", "align": "left", "baseline": "middle", "fontSize": 8.5, "color": "#000000"},
          "encoding": {
            "x": {"datum": 3.7, "axis": null},
            "y": {"datum": 0.90475},
            "text": {"field": "t"}
          }
        }
      ]
    },
    {
      "width": 959,
      "height": 103,
      "layer": [
        {
          "data": {"name": "grid"},
          "mark": {"type": "rule", "strokeDash": [4, 3], "color": "#000000", "strokeWidth": 1},
          "encoding": {"x": {"field": "i", "type": "quantitative", "scale": {"domain": [-0.26, 252.1], "nice": false, "zero": false, "padding": 0},
            "axis": {"orient": "bottom", "values": [0, 16, 32, 48, 64, 80, 96, 112, 128, 144, 160, 176, 192],
              "labelExpr": "['3 Jun 2014','4 Jun 05:00','4 Jun 21:00','5 Jun 13:00','6 Jun 05:00','6 Jun 21:00','9 Jun 14:00','10 Jun 06:00','10 Jun 22:00','11 Jun 14:00','12 Jun 06:00','12 Jun 22:00','13 Jun 14:00'][round(datum.value / 16)]",
              "labelAlign": "left", "labelFlush": false, "labelOverlap": false, "labelBound": false, "tickSize": 3, "labelPadding": 1, "title": null}}}
        },
        {
          "data": {"values": [{"v": 0}]},
          "mark": {"type": "rule", "strokeDash": [4, 4], "color": "#A8A8A8", "strokeWidth": 1},
          "encoding": {
            "y": {"field": "v", "type": "quantitative", "scale": {"domain": [-0.0019, 0.001533], "nice": false, "zero": false, "padding": 0},
              "axis": {"orient": "right", "values": [0.0014, 0, -0.00176], "format": ".5f", "tickSize": 4, "labelPadding": 1, "labelFontSize": 8, "title": null, "labelBaseline": "middle", "labelOverlap": false}}
          }
        },
        {
          "data": {"name": "macd"},
          "mark": {"type": "bar", "width": 1.8, "color": "#777777"},
          "encoding": {
            "x": {"field": "i", "type": "quantitative"},
            "y": {"field": "v", "type": "quantitative"},
            "y2": {"datum": 0}
          }
        },
        {
          "data": {"name": "signal"},
          "mark": {"type": "line", "color": "#FF0000", "strokeWidth": 1, "interpolate": "monotone"},
          "encoding": {
            "x": {"field": "i", "type": "quantitative"},
            "y": {"field": "s", "type": "quantitative"}
          }
        },
        {
          "data": {"values": [{"t": "MACD(12,26,9) 0.00032 0.00044"}]},
          "mark": {"type": "text", "align": "left", "baseline": "middle", "fontSize": 8.5, "color": "#000000"},
          "encoding": {"x": {"datum": 0.8}, "y": {"datum": 0.00127}, "text": {"field": "t"}}
        },
        {
          "data": {"values": [{"t": "MetaTrader 5, © 2001-2014, MetaQuotes Software Corp."}]},
          "mark": {"type": "text", "align": "left", "baseline": "middle", "fontSize": 8.5, "color": "#000000"},
          "encoding": {"x": {"datum": 0.6}, "y": {"datum": -0.00169}, "text": {"field": "t"}}
        }
      ]
    }
  ]
}
